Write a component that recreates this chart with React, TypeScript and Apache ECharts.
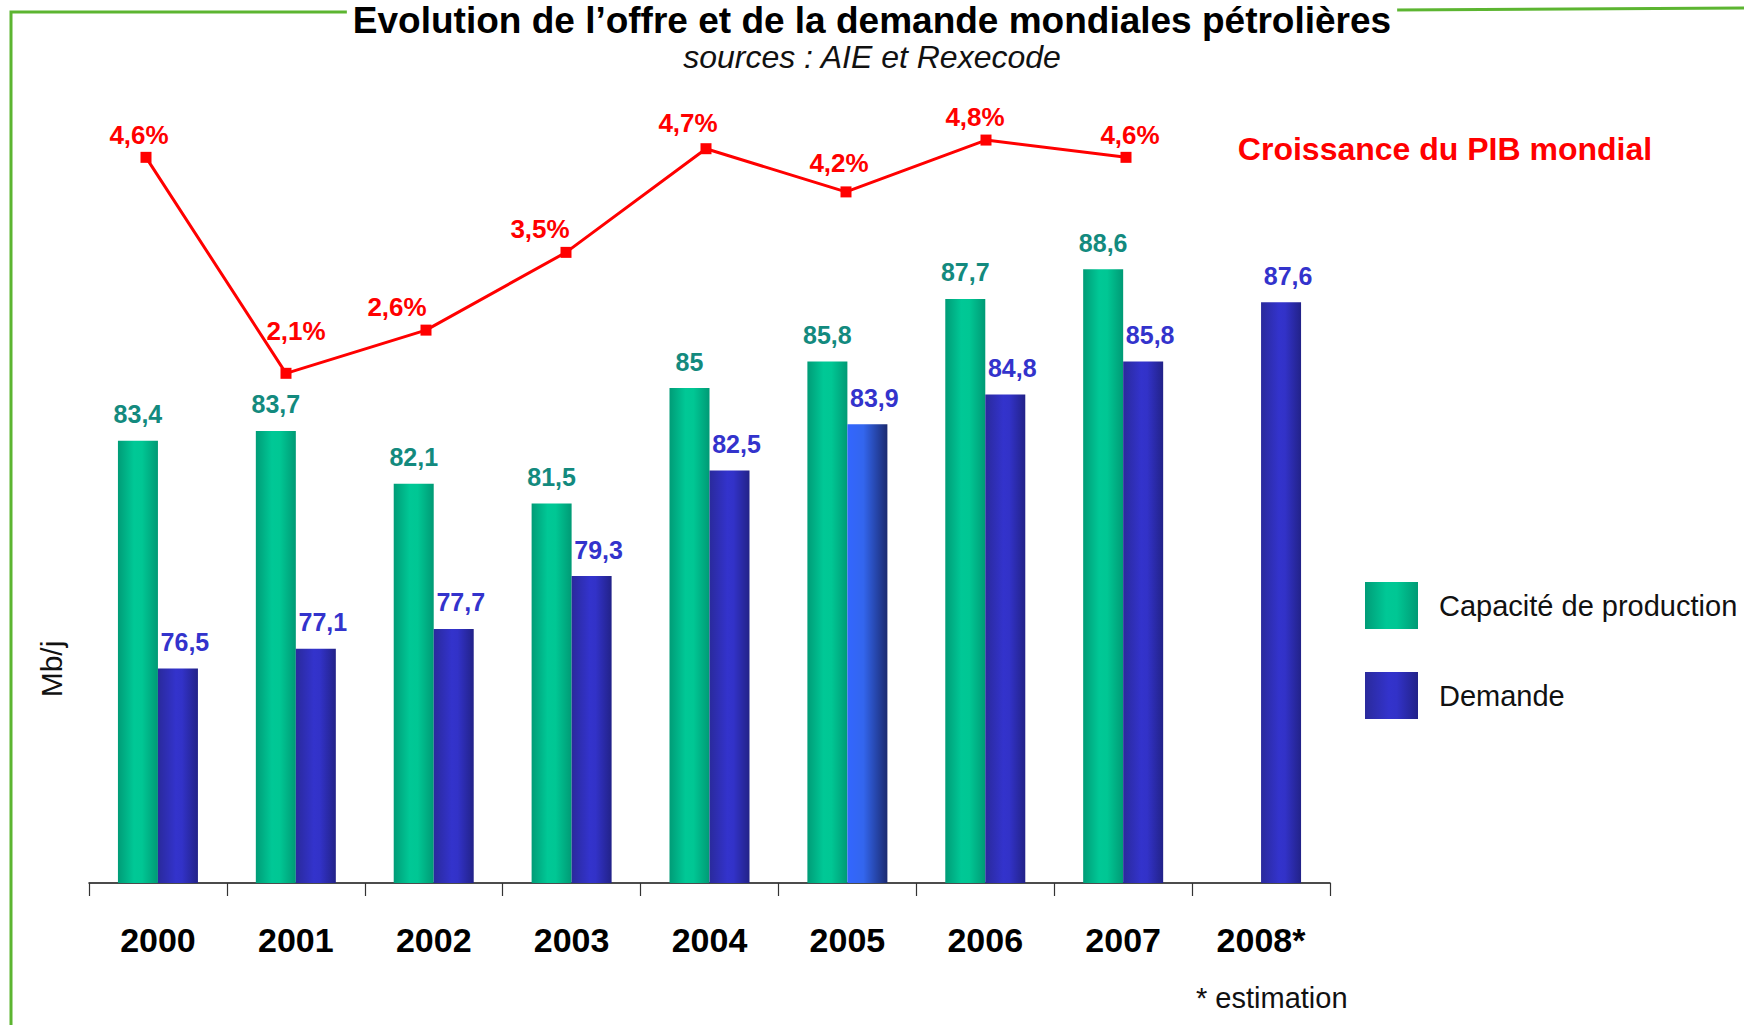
import React, { useEffect, useRef } from "react";
import * as echarts from "echarts";

const years = ["2000", "2001", "2002", "2003", "2004", "2005", "2006", "2007", "2008*"];
const capacity = [83.4, 83.7, 82.1, 81.5, 85, 85.8, 87.7, 88.6, null];
const demand = [76.5, 77.1, 77.7, 79.3, 82.5, 83.9, 84.8, 85.8, 87.6];
const gdpGrowth = [4.6, 2.1, 2.6, 3.5, 4.7, 4.2, 4.8, 4.6, null];

const SANS = '"Liberation Sans", Arial, sans-serif';

// label nudges for the growth line (dx, extra lift) — style only
const gdpLabelNudge: [number, number][] = [
  [-7, 0], [10, 20], [-29, 1], [-26, 1], [-18, 3], [-7, 6], [-11, 1], [4, 0], [0, 0],
];

const fmt = (v: number) => String(v).replace(".", ",");

const greenGrad = new echarts.graphic.LinearGradient(0, 0, 1, 0, [
  { offset: 0, color: "#009c77" },
  { offset: 0.4, color: "#00c896" },
  { offset: 0.6, color: "#00c794" },
  { offset: 1, color: "#009a75" },
]);
const blueGrad = new echarts.graphic.LinearGradient(0, 0, 1, 0, [
  { offset: 0, color: "#2a2a9c" },
  { offset: 0.45, color: "#3333cc" },
  { offset: 0.6, color: "#3232c8" },
  { offset: 1, color: "#222288" },
]);
const blueGrad2005 = new echarts.graphic.LinearGradient(0, 0, 1, 0, [
  { offset: 0, color: "#3366ff" },
  { offset: 0.4, color: "#3366ee" },
  { offset: 1, color: "#1b2a70" },
]);

export default function App() {
  const ref = useRef<HTMLDivElement>(null);
  useEffect(() => {
    if (!ref.current) return;
    const chart = echarts.init(ref.current, undefined, { renderer: "svg" });
    const barLabel = {
      show: true,
      position: "top",
      distance: 14,
      formatter: (p: any) => fmt(p.value),
      fontSize: 25,
      fontWeight: "bold",
      fontFamily: SANS,
    };
    const option: any = {
      animation: false,
      backgroundColor: "#ffffff",
      grid: [
        { left: 89, right: 414, top: 58, bottom: 142 },
        { left: 76, right: 408, top: 58, bottom: 142 },
      ],
      legend: {
        orient: "vertical",
        left: 1360,
        top: 577,
        itemWidth: 53,
        itemHeight: 47,
        itemGap: 43,
        icon: "rect",
        data: ["Capacité de production", "Demande"],
        textStyle: { fontSize: 29, color: "#111", fontFamily: SANS, padding: [0, 0, 0, 16] },
      },
      xAxis: [
        {
          type: "category",
          data: years,
          gridIndex: 0,
          axisLine: { onZero: false, lineStyle: { color: "#111", width: 1.5 } },
          axisTick: { show: true, length: 13, lineStyle: { color: "#333", width: 1.2 } },
          axisLabel: {
            interval: 0,
            fontSize: 34,
            fontWeight: "bold",
            fontFamily: SANS,
            color: "#000",
            margin: 40,
          },
        },
        { type: "category", data: years, gridIndex: 1, show: false },
      ],
      yAxis: [
        { type: "value", gridIndex: 0, min: 70, max: 95, show: false, splitLine: { show: false } },
        { type: "value", gridIndex: 1, min: -3.8, max: 5.75, show: false, splitLine: { show: false } },
      ],
      series: [
        {
          name: "Capacité de production",
          type: "bar",
          barWidth: 40,
          barGap: "0%",
          data: capacity,
          itemStyle: { color: greenGrad },
          label: { ...barLabel, color: "#138a7e" },
        },
        {
          name: "Demande",
          type: "bar",
          barWidth: 40,
          barGap: "0%",
          data: demand.map((v, i) =>
            i === 5 ? { value: v, itemStyle: { color: blueGrad2005 } } : v
          ),
          itemStyle: { color: blueGrad },
          label: { ...barLabel, offset: [7, 0], color: "#3333cc" },
        },
        {
          name: "Croissance du PIB mondial",
          type: "line",
          xAxisIndex: 1,
          yAxisIndex: 1,
          data: gdpGrowth.map((v, i) =>
            v == null
              ? null
              : {
                  value: v,
                  label: { offset: [gdpLabelNudge[i][0], -gdpLabelNudge[i][1]] },
                }
          ),
          symbol: "rect",
          symbolSize: 11,
          lineStyle: { color: "#ff0000", width: 3 },
          itemStyle: { color: "#ff0000" },
          label: {
            show: true,
            position: "top",
            distance: 4,
            formatter: (p: any) => fmt(p.value) + "%",
            color: "#ff0000",
            fontSize: 26,
            fontWeight: "bold",
            fontFamily: SANS,
          },
        },
      ],
      graphic: [
        {
          type: "polyline",
          shape: { points: [[11, 1025], [11, 12], [352, 12]] },
          style: { stroke: "#5cb531", lineWidth: 3, fill: "none" },
          silent: true,
        },
        {
          type: "line",
          shape: { x1: 1394, y1: 10, x2: 1744, y2: 8 },
          style: { stroke: "#5cb531", lineWidth: 3 },
          silent: true,
        },
        {
          type: "text",
          x: 872,
          y: 20,
          style: {
            text: "Evolution de l’offre et de la demande mondiales pétrolières",
            fontSize: 37,
            lineHeight: 37,
            fontWeight: "bold",
            fontFamily: SANS,
            fill: "#000",
            align: "center",
            verticalAlign: "middle",
            backgroundColor: "#ffffff",
            padding: [0, 6, 0, 6],
          },
        },
        {
          type: "text",
          x: 872,
          y: 57,
          style: {
            text: "sources : AIE et Rexecode",
            fontSize: 32,
            lineHeight: 32,
            fontStyle: "italic",
            fontFamily: SANS,
            fill: "#111",
            align: "center",
            verticalAlign: "middle",
          },
        },
        {
          type: "text",
          x: 1445,
          y: 149,
          style: {
            text: "Croissance du PIB mondial",
            fontSize: 32,
            fontWeight: "bold",
            fontFamily: SANS,
            fill: "#ff0000",
            align: "center",
            verticalAlign: "middle",
          },
        },
        {
          type: "text",
          x: 51,
          y: 669,
          rotation: Math.PI / 2,
          style: {
            text: "Mb/j",
            fontSize: 30,
            fontFamily: SANS,
            fill: "#111",
            align: "center",
            verticalAlign: "middle",
          },
        },
        {
          type: "text",
          x: 1196,
          y: 998,
          style: {
            text: "* estimation",
            fontSize: 29,
            fontFamily: SANS,
            fill: "#111",
            align: "left",
            verticalAlign: "middle",
          },
        },
      ],
    };
    chart.setOption(option);
    return () => chart.dispose();
  }, []);
  return (
    <div
      ref={ref}
      style={{ position: "fixed", left: 0, top: 0, width: 1744, height: 1025 }}
    />
  );
}
